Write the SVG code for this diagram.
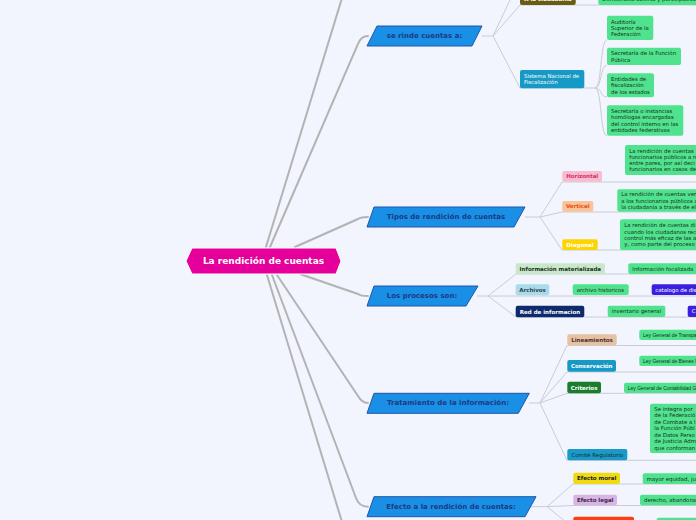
<svg xmlns="http://www.w3.org/2000/svg" width="696" height="520" viewBox="0 0 696 520">
<style>
.main{fill:none;stroke:#b3b3b3;stroke-width:2;stroke-linecap:round}
.sub{fill:none;stroke:#c9ccd4;stroke-width:1}
.par{fill:#1a8fe6;stroke:#1e56a8;stroke-width:1}
.pt{font-family:"DejaVu Sans",Verdana,sans-serif;font-weight:bold;font-size:7px;fill:#1d3a82;text-anchor:middle;dominant-baseline:central}
.leaf{fill:#4fe38e}
.lt{font-family:"DejaVu Sans",Verdana,sans-serif;font-size:5.4px;fill:#1a2b1f;dominant-baseline:central}
.lbl{font-family:"DejaVu Sans",Verdana,sans-serif;font-weight:bold;font-size:5.5px;text-anchor:middle;dominant-baseline:central}
.law{font-family:"Liberation Sans",Arial,sans-serif;font-size:5px;fill:#1a2b1f;dominant-baseline:central}
.wt{fill:#ffffff}
</style>
<rect width="696" height="520" fill="#f2f5fd"/>
<g id="connectors">
<path class="main" d="M266,247 L342,-2"/>
<path class="main" d="M270,247 L358,44 Q361,36 368,36"/>
<path class="main" d="M295,247 L358,219 Q361,217 368,217"/>
<path class="main" d="M300,274 L358,294 Q361,296 368,296"/>
<path class="main" d="M277,275 L358,396 Q362,403 368,403"/>
<path class="main" d="M272,275 L356,498 Q359,506.7 368,506.7"/>
<path class="main" d="M267,275 L342,522"/>
<path class="sub" d="M482,36 L493,36 M493,36 L520,5 L700,5 M493,36 L511,-2 M493,36 L520,88 L595,88"/>
<path class="sub" d="M595,88 C602,88 600,40 607,40 M595,88 C602,88 600,65 607,65 M595,88 C602,88 600,97 607,97 M595,88 C602,88 600,136 607,136"/>
<path class="sub" d="M525,217 L540,217 M540,217 L562,182 L700,182 M540,217 L562,212 L700,212 M540,217 L562,250 L700,250"/>
<path class="sub" d="M477,296 L700,296 M488,296 L516,274 L700,274 M488,296 L516,317 L700,317"/>
<path class="sub" d="M529,403 L540,403 M540,403 L567,345.5 L700,345.5 M540,403 L567,372 L700,372 M540,403 L567,393.3 L700,393.3 M540,403 L567,460.3 L700,460.3"/>
<path class="sub" d="M525,506.7 L547,506.7 M547,506.7 L573,484 L700,484 M547,506.7 L573,505.5 L700,505.5 M547,506.7 L566,522"/>
</g>
<g id="central"><polygon points="186,261 192,248 336,248 341,261 336,274 192,274" fill="#e6009b" stroke="#ffffff" stroke-width="1"/><text x="263.5" y="261" font-family="DejaVu Sans, Verdana, sans-serif" font-weight="bold" font-size="9" fill="#ffffff" text-anchor="middle" dominant-baseline="central">La rendición de cuentas</text></g>
<g id="se-rinde"><polygon class="par" points="377,26 482,26 472,46 367,46"/><text class="pt" x="424.5" y="36">se rinde cuentas a:</text></g>
<g id="tipos"><polygon class="par" points="374,207 525,207 514,227 367,227"/><text class="pt" x="446" y="217">Tipos de rendición de cuentas</text></g>
<g id="procesos"><polygon class="par" points="374,286 478,286 466,306 367,306"/><text class="pt" x="422" y="296">Los procesos son:</text></g>
<g id="tratamiento"><polygon class="par" points="374,393.3 529.3,393.3 518.3,413.3 367,413.3"/><text class="pt" x="448" y="403.3">Tratamiento de la información:</text></g>
<g id="efecto"><polygon class="par" points="374,496.7 536,496.7 525,516.7 367,516.7"/><text class="pt" x="451" y="506.7">Efecto a la rendición de cuentas:</text></g>
<g id="ciudadania"><rect x="520" y="-7" width="55.7" height="12" rx="2" fill="#6a5c14"/><text class="lbl wt" x="548" y="-0.8">A la ciudadanía</text></g>
<g id="democracia"><rect class="leaf" x="598.3" y="-7" width="110" height="12" rx="2"/><text class="lt" x="602.3" y="-0.8">Democracia abierta y participativa</text></g>
<g id="sistema"><rect x="520" y="70" width="64.3" height="18.3" rx="2" fill="#1699c4"/><text class="lt wt" x="524" y="76"><tspan x="524" y="76">Sistema Nacional de</tspan><tspan x="524" y="82.4">Fiscalización</tspan></text></g>
<g id="auditoria"><rect class="leaf" x="607" y="15.7" width="46.3" height="24.3" rx="2"/><text class="lt"><tspan x="611" y="21.7">Auditoría</tspan><tspan x="611" y="27.9">Superior de la</tspan><tspan x="611" y="34.1">Federación</tspan></text></g>
<g id="sfp"><rect class="leaf" x="607" y="47.7" width="74" height="17.3" rx="2"/><text class="lt"><tspan x="611" y="53.3">Secretaría de la Función</tspan><tspan x="611" y="59.5">Pública</tspan></text></g>
<g id="entidades"><rect class="leaf" x="607" y="73.3" width="47" height="24" rx="2"/><text class="lt"><tspan x="611" y="79.1">Entidades de</tspan><tspan x="611" y="85.3">fiscalización</tspan><tspan x="611" y="91.5">de los estados</tspan></text></g>
<g id="secretaria-instancias"><rect class="leaf" x="607" y="105.3" width="76.3" height="30.4" rx="2"/><text class="lt"><tspan x="611" y="110.8">Secretaría o instancias</tspan><tspan x="611" y="117.3">homólogas encargadas</tspan><tspan x="611" y="123.8">del control interno en las</tspan><tspan x="611" y="130.3">entidades federativas</tspan></text></g>
<g id="horizontal"><rect x="562.3" y="171" width="39.7" height="10.7" rx="2" fill="#f8bcd1"/><text class="lbl" x="582.2" y="176.4" fill="#d6306a">Horizontal</text></g>
<g id="horizontal-desc"><rect class="leaf" x="625" y="145" width="80" height="30" rx="2"/><text class="lt"><tspan x="629.3" y="150.7">La rendición de cuentas</tspan><tspan x="629.3" y="156.9">funcionarios públicos a n</tspan><tspan x="629.3" y="163.1">entre pares, por así deci</tspan><tspan x="629.3" y="169.3">funcionarios en casos de</tspan></text></g>
<g id="vertical"><rect x="562.3" y="201" width="31" height="10.7" rx="2" fill="#f9c39b"/><text class="lbl" x="577.8" y="206.4" fill="#e8500e">Vertical</text></g>
<g id="vertical-desc"><rect class="leaf" x="617.3" y="189.3" width="90" height="22.4" rx="2"/><text class="lt"><tspan x="621.3" y="194.3">La rendición de cuentas ver</tspan><tspan x="621.3" y="200.5">a los funcionarios públicos a</tspan><tspan x="621.3" y="206.7">la ciudadanía a través de el</tspan></text></g>
<g id="diagonal"><rect x="562.3" y="239.3" width="35.4" height="10.7" rx="2" fill="#ffd500"/><text class="lbl wt" x="580" y="244.7">Diagonal</text></g>
<g id="diagonal-desc"><rect class="leaf" x="620" y="219.3" width="90" height="30.7" rx="2"/><text class="lt"><tspan x="624.3" y="225.3">La rendición de cuentas di</tspan><tspan x="624.3" y="231.5">cuando los ciudadanos rec</tspan><tspan x="624.3" y="237.7">control más eficaz de las a</tspan><tspan x="624.3" y="243.9">y, como parte del proceso</tspan></text></g>
<g id="info-mat"><rect x="515.7" y="263.3" width="89.3" height="11" rx="2" fill="#c9e7cb"/><text class="lbl" x="560.3" y="268.8" fill="#1e3326">Información materializada</text></g>
<g id="info-foc"><rect class="leaf" x="628.3" y="263.3" width="80" height="10.7" rx="2"/><text class="lt" x="632.3" y="268.7">Información focalizada</text></g>
<g id="archivos"><rect x="515.7" y="284.3" width="33.6" height="11" rx="2" fill="#a9dbea"/><text class="lbl" x="532.5" y="289.8" fill="#2b4656">Archivos</text></g>
<g id="archivo-hist"><rect class="leaf" x="572.7" y="284.3" width="56" height="10.7" rx="2"/><text class="lt" x="576.7" y="289.7">archivo historicos</text></g>
<g id="catalogo"><rect x="651.7" y="284.3" width="60" height="10.7" rx="2" fill="#3b1fe0"/><text class="lt wt" x="655.3" y="289.7">catalogo de dis</text></g>
<g id="red-info"><rect x="515.7" y="305.7" width="68.6" height="11.6" rx="2" fill="#0e2a6c"/><text class="lbl wt" x="550" y="311.5">Red de informacion</text></g>
<g id="inventario"><rect class="leaf" x="607.7" y="305.7" width="57.6" height="11.3" rx="2"/><text class="lt" x="611.7" y="311.4">inventario general</text></g>
<g id="c-node"><rect x="687.7" y="305.7" width="20" height="11.3" rx="2" fill="#3b1fe0"/><text class="lt wt" x="691.7" y="311.4">C</text></g>
<g id="lineamientos"><rect x="567.3" y="334.3" width="49.4" height="11" rx="2" fill="#e6c1a4"/><text class="lbl" x="592" y="339.8" fill="#4a3428">Lineamientos</text></g>
<g id="ley-transp"><rect class="leaf" x="639.3" y="329.7" width="70" height="10.3" rx="2"/><text class="law" x="643" y="334.9">Ley General de Transpa</text></g>
<g id="conservacion"><rect x="567.3" y="360" width="48.7" height="11.7" rx="2" fill="#1699c4"/><text class="lbl wt" x="591.7" y="365.9">Conservación</text></g>
<g id="ley-bienes"><rect class="leaf" x="639.3" y="355.7" width="70" height="10.3" rx="2"/><text class="law" x="643" y="360.9">Ley General de Bienes N</text></g>
<g id="criterios"><rect x="567.3" y="381.7" width="33.7" height="11.6" rx="2" fill="#1b7c2d"/><text class="lbl wt" x="584.1" y="387.5">Criterios</text></g>
<g id="ley-contab"><rect class="leaf" x="624" y="382.7" width="85" height="10.3" rx="2"/><text class="law" x="627.7" y="387.9">Ley General de Contabilidad G</text></g>
<g id="comite"><rect x="567.3" y="449" width="60" height="11.3" rx="2" fill="#1a9ac8"/><text class="lt" x="597.3" y="454.7" text-anchor="middle" fill="#e8f6ff">Comité Regulatorio</text></g>
<g id="comite-desc"><rect class="leaf" x="650" y="403.7" width="60" height="49.3" rx="2"/><text class="lt"><tspan x="654.3" y="409">Se integra por</tspan><tspan x="654.3" y="415.4">de la Federació</tspan><tspan x="654.3" y="421.9">de Combate a l</tspan><tspan x="654.3" y="428.3">la Función Públ</tspan><tspan x="654.3" y="434.8">de Datos Perso</tspan><tspan x="654.3" y="441.2">de Justicia Adm</tspan><tspan x="654.3" y="447.7">que conforman</tspan></text></g>
<g id="efecto-moral"><rect x="573.3" y="472.7" width="46.7" height="11.3" rx="2" fill="#f0da12"/><text class="lbl" x="596.7" y="478.4" fill="#222222">Efecto moral</text></g>
<g id="moral-desc"><rect class="leaf" x="642.7" y="473.3" width="70" height="10.7" rx="2"/><text class="lt" x="646.7" y="478.7">mayor equidad, ju</text></g>
<g id="efecto-legal"><rect x="573.3" y="494.7" width="43.7" height="10.6" rx="2" fill="#d9b4e4"/><text class="lbl" x="595.2" y="500" fill="#3a2a48">Efecto legal</text></g>
<g id="legal-desc"><rect class="leaf" x="640" y="494.7" width="70" height="10.6" rx="2"/><text class="lt" x="644" y="500">derecho, abandona</text></g>
<g id="efecto-3"><rect x="573.3" y="516.7" width="60.7" height="12" rx="2" fill="#ff3d12"/></g>
<g id="efecto-3-desc"><rect class="leaf" x="656.7" y="517.7" width="60" height="12" rx="2"/></g>
</svg>
